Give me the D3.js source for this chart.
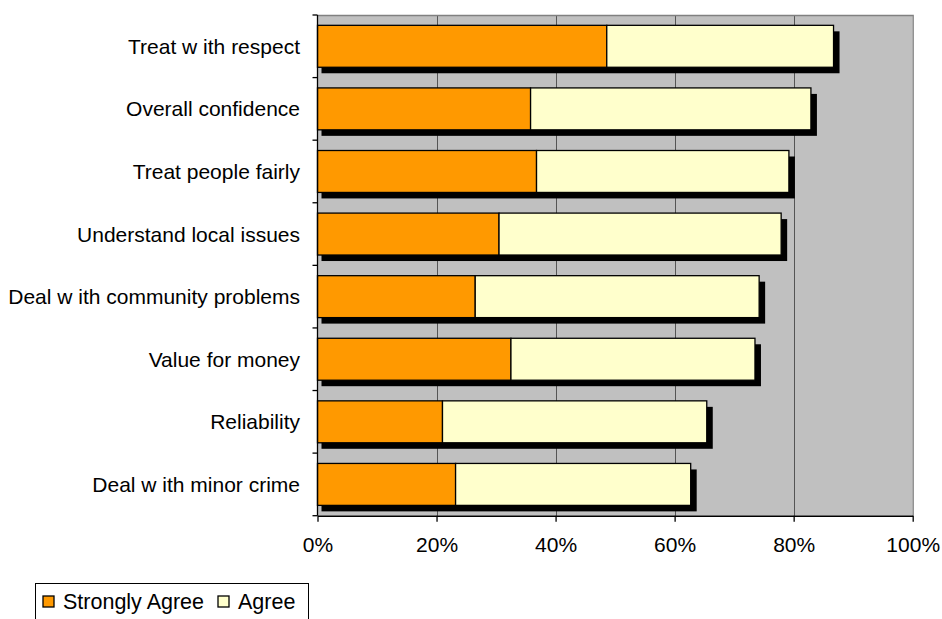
<!DOCTYPE html>
<html>
<head>
<meta charset="utf-8">
<script src="https://cdn.jsdelivr.net/npm/d3@7"></script>
<style>
  html, body { margin: 0; padding: 0; background: #fff; }
  svg { display: block; }
  text { font-family: "Liberation Sans", Arial, sans-serif; fill: #000; }
</style>
</head>
<body>
<svg id="chart" width="942" height="619"></svg>
<script>
const categories = [
  "Treat w ith respect",
  "Overall confidence",
  "Treat people fairly",
  "Understand local issues",
  "Deal w ith community problems",
  "Value for money",
  "Reliability",
  "Deal w ith minor crime"
];
const stronglyAgree = [48.6, 35.8, 36.8, 30.5, 26.5, 32.5, 21.0, 23.2];
const agree         = [38.1, 47.1, 42.4, 47.4, 47.7, 41.0, 44.4, 39.5];
const seriesNames = ["Strongly Agree", "Agree"];
const seriesColors = ["#FF9900", "#FFFFCC"];
const xTicks = [0, 20, 40, 60, 80, 100];

(function () {
const svg = d3.select("#chart");
const pL = 317.5, pR = 912.7, pT = 15, pB = 515.7;
const FS = 21;

const x = d3.scaleLinear().domain([0, 100]).range([pL, pR]);
const y = d3.scaleBand().domain(categories).range([pT, pB]).paddingInner(0.33).paddingOuter(0.165);

// plot background
svg.append("rect").attr("x", pL).attr("y", pT).attr("width", pR - pL).attr("height", pB - pT)
  .attr("fill", "#C0C0C0");

// gridlines
svg.append("g").selectAll("line").data(xTicks.slice(1, -1)).join("line")
  .attr("x1", d => Math.round(x(d)) + 0.5).attr("x2", d => Math.round(x(d)) + 0.5)
  .attr("y1", pT).attr("y2", pB)
  .attr("stroke", "#555").attr("stroke-width", 1);

// border top/right
svg.append("path")
  .attr("d", `M${pL},${pT + 0.5}H${pR + 0.5}V${pB}`)
  .attr("fill", "none").attr("stroke", "#808080").attr("stroke-width", 1.3);

const rows = categories.map((c, i) => ({ c, sa: stronglyAgree[i], ag: agree[i] }));

// shadows
svg.append("g").selectAll("rect").data(rows).join("rect")
  .attr("x", x(0) + 4).attr("y", d => y(d.c) + 6)
  .attr("width", d => x(d.sa + d.ag) - x(0) + 2)
  .attr("height", y.bandwidth())
  .attr("fill", "#000");

// bars
const stack = [
  rows.map(d => ({ c: d.c, x0: 0, x1: d.sa })),
  rows.map(d => ({ c: d.c, x0: d.sa, x1: d.sa + d.ag }))
];
stack.forEach((s, si) => {
  svg.append("g").selectAll("rect").data(s).join("rect")
    .attr("x", d => x(d.x0)).attr("y", d => y(d.c))
    .attr("width", d => x(d.x1) - x(d.x0))
    .attr("height", y.bandwidth())
    .attr("fill", seriesColors[si])
    .attr("stroke", "#000").attr("stroke-width", 1.3);
});

// left axis
const yAxisG = svg.append("g");
yAxisG.append("line").attr("x1", pL).attr("x2", pL).attr("y1", pT).attr("y2", pB)
  .attr("stroke", "#000").attr("stroke-width", 1.3);
const step = y.step();
const boundaries = d3.range(categories.length + 1).map(i => pT + i * step);
yAxisG.selectAll("line.tk").data(boundaries).join("line").attr("class", "tk")
  .attr("x1", pL - 5).attr("x2", pL).attr("y1", d => d).attr("y2", d => d)
  .attr("stroke", "#000").attr("stroke-width", 1.3);
yAxisG.selectAll("text").data(categories).join("text")
  .attr("x", 300).attr("y", d => y(d) + y.bandwidth() / 2)
  .attr("text-anchor", "end").attr("dominant-baseline", "central")
  .attr("font-size", FS).text(d => d);

// bottom axis
const xAxis = d3.axisBottom(x).tickValues(xTicks).tickFormat(d => d + "%").tickSize(6).tickSizeOuter(0);
const xg = svg.append("g").attr("transform", `translate(0,${pB})`).call(xAxis);
xg.select(".domain").attr("stroke", "#000").attr("stroke-width", 1.5);
xg.selectAll(".tick line").attr("stroke", "#000").attr("stroke-width", 1.3);
xg.selectAll(".tick text").attr("font-size", FS).attr("font-family", "Liberation Sans, Arial, sans-serif")
  .attr("y", 30).attr("dy", "0.32em").attr("fill", "#000");

// legend
const lg = svg.append("g");
lg.append("rect").attr("x", 35.5).attr("y", 583.5).attr("width", 273).attr("height", 50)
  .attr("fill", "#fff").attr("stroke", "#000").attr("stroke-width", 1);
const legendX = [43, 218];
seriesNames.forEach((n, i) => {
  lg.append("rect").attr("x", legendX[i]).attr("y", 596).attr("width", 11).attr("height", 11)
    .attr("fill", seriesColors[i]).attr("stroke", "#000").attr("stroke-width", 1.3);
  lg.append("text").attr("x", legendX[i] + 20).attr("y", 602).attr("dominant-baseline", "central")
    .attr("font-size", 21.5).text(n);
});
})();
</script>
</body>
</html>
